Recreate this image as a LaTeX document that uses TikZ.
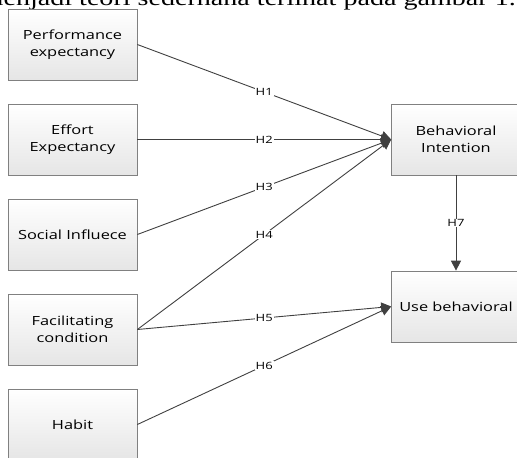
\documentclass[tikz,border=0pt]{standalone}
\usepackage{fontspec}
\setsansfont{Open Sans}[FakeStretch=1.3]
\newfontfamily\bodyfont{Liberation Serif}[FakeStretch=1.3]
\usepackage{tikz}
\usetikzlibrary{arrows.meta,positioning}
\definecolor{edgegray}{HTML}{404040}
\definecolor{framegray}{HTML}{808080}
\tikzset{
  box/.style  = {draw=framegray, line width=0.7pt, top color=white, bottom color=gray!20,
                 minimum width=129pt, minimum height=71pt, inner sep=0pt,
                 align=center, font=\sffamily\fontsize{12.6}{17.5}\selectfont},
  link/.style = {draw=edgegray, line width=0.9pt,
                 -{Triangle[length=10pt,width=10pt]}},
  lbl/.style  = {fill=white, inner sep=0.8pt, text=black,
                 font=\sffamily\fontsize{10}{11}\selectfont},
}

\begin{document}
\begin{tikzpicture}[x=1pt,y=-1pt]
  \useasboundingbox (0,0) rectangle (517,458);
  \clip (0,0) rectangle (517,458);
  % line of running text, cut off at the top
  \node[anchor=base east, inner sep=0pt, font=\bodyfont\fontsize{21.6}{25}\selectfont]
      (txt) at (516,5) {menjadi teori sederhana terlihat pada gambar 1.};
  % constructs
  \node[box] (pe) at (72.5,44.5)  {Performance\\expectancy};
  \node[box] (ee) at (72.5,139.5) {Effort\\Expectancy};
  \node[box] (si) at (72.5,234.5) {Social Influece};
  \node[box] (fc) at (72.5,329.5) {Facilitating\\condition};
  \node[box] (hb) at (72.5,424.5) {Habit};
  \node[box] (bi) at (456,139.5)  {Behavioral\\Intention};
  \node[box] (ub) at (456,306.5)  {Use behavioral};
  % hypotheses
  \draw[link] (pe.east) -- (bi.west) node[lbl,midway]{H1};
  \draw[link] (ee.east) -- (bi.west) node[lbl,midway]{H2};
  \draw[link] (si.east) -- (bi.west) node[lbl,midway]{H3};
  \draw[link] (fc.east) -- (bi.west) node[lbl,midway]{H4};
  \draw[link] (fc.east) -- (ub.west) node[lbl,midway]{H5};
  \draw[link] (hb.east) -- (ub.west) node[lbl,midway]{H6};
  \draw[link] (bi.south) -- (ub.north) node[lbl,midway]{H7};
\end{tikzpicture}
\end{document}
